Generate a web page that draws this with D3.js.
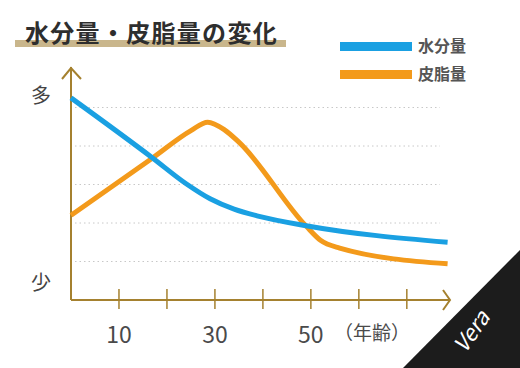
<!DOCTYPE html>
<html lang="ja">
<head>
<meta charset="UTF-8">
<title>水分量・皮脂量の変化</title>
<script src="https://d3js.org/d3.v7.min.js"></script>
<style>
    body { margin: 0; background: #fff; }
    text { font-family: "Noto Sans CJK JP", "Noto Sans", sans-serif; }
    .grid line { stroke: #c8c8c8; stroke-dasharray: 1.5,3; stroke-width: 1; }
</style>
</head>
<body>
<script>
    var width = 520, height = 368;

    // ages (x) and relative level (y, 0..5)
    var waterAges   = [0, 17, 24, 29, 34, 39, 49, 78.5];
    var waterLevels = [5.25, 3.69, 3.02, 2.63, 2.36, 2.18, 1.93, 1.5];
    var sebumAges   = [0, 17, 25, 28.5, 32, 35, 49, 52, 56, 78.5];
    var sebumLevels = [2.2, 3.69, 4.4, 4.62, 4.42, 4.1, 1.92, 1.55, 1.35, 0.94];
    var xTicks = [10, 20, 30, 40, 50, 60, 70];
    var xLabels = [10, 30, 50];
    var gridLevels = [1, 2, 3, 4, 5];
    var seriesNames = ["水分量", "皮脂量"];

    var colors = { "水分量": "#1aa0e2", "皮脂量": "#f39a1b" };
    var axisColor = "#a5812f";

    var svg = d3.select("body").append("svg")
        .attr("width", width)
        .attr("height", height);

    var x = d3.scaleLinear().domain([0, 79]).range([71, 450]);
    var y = d3.scaleLinear().domain([0, 5]).range([300, 107.5]);

    // title with underline band
    svg.append("rect")
        .attr("x", 15).attr("y", 40)
        .attr("width", 271).attr("height", 7)
        .attr("fill", "#c9b68c");
    svg.append("text")
        .attr("x", 25).attr("y", 42)
        .attr("font-size", 24)
        .attr("font-weight", "bold")
        .attr("letter-spacing", 1.3)
        .attr("fill", "#2e2e2e")
        .text("水分量・皮脂量の変化");

    // grid
    svg.append("g").attr("class", "grid")
        .selectAll("line")
        .data(gridLevels)
        .enter().append("line")
        .attr("x1", 75).attr("x2", 440)
        .attr("y1", function(d){ return y(d); })
        .attr("y2", function(d){ return y(d); });

    // axes
    var ax = svg.append("g")
        .attr("stroke", axisColor)
        .attr("stroke-width", 2)
        .attr("fill", "none");
    ax.append("line").attr("x1", x(0)).attr("y1", y(0)).attr("x2", x(0)).attr("y2", 67);
    ax.append("path").attr("d", "M" + (x(0) - 9) + ",79L" + x(0) + ",68L" + (x(0) + 10) + ",79");
    ax.append("line").attr("x1", x(0)).attr("y1", y(0)).attr("x2", 450).attr("y2", y(0));
    ax.append("path").attr("d", "M443,290L450," + y(0) + "L443,310");
    ax.selectAll(".tick")
        .data(xTicks)
        .enter().append("line")
        .attr("x1", function(d){ return x(d); })
        .attr("x2", function(d){ return x(d); })
        .attr("y1", 289).attr("y2", 309)
        .attr("stroke-width", 1.5);

    svg.selectAll(".xlabel")
        .data(xLabels)
        .enter().append("text")
        .attr("x", function(d){ return x(d); })
        .attr("y", 343)
        .attr("text-anchor", "middle")
        .attr("font-size", 23)
        .attr("fill", "#4a4a4a")
        .text(function(d){ return d; });
    svg.append("text")
        .attr("x", 372).attr("y", 340)
        .attr("text-anchor", "middle")
        .attr("font-size", 19)
        .attr("fill", "#4a4a4a")
        .text("（年齢）");

    svg.append("text").attr("x", 41).attr("y", 103)
        .attr("text-anchor", "middle").attr("font-size", 20).attr("fill", "#444").text("多");
    svg.append("text").attr("x", 41).attr("y", 290)
        .attr("text-anchor", "middle").attr("font-size", 20).attr("fill", "#444").text("少");

    // lines
    var line = d3.line()
        .x(function(d){ return x(d[0]); })
        .y(function(d){ return y(d[1]); })
        .curve(d3.curveMonotoneX);

    var series = [
        { name: "水分量", points: d3.zip(waterAges, waterLevels) },
        { name: "皮脂量", points: d3.zip(sebumAges, sebumLevels) }
    ];

    svg.selectAll(".series")
        .data(series.slice().reverse())
        .enter().append("path")
        .attr("fill", "none")
        .attr("stroke", function(d){ return colors[d.name]; })
        .attr("stroke-width", 5)
        .attr("stroke-linecap", "butt")
        .attr("d", function(d){ return line(d.points); });

    // legend
    var legend = svg.selectAll(".legend")
        .data(seriesNames)
        .enter().append("g")
        .attr("transform", function(d, i){ return "translate(340," + (46.5 + i * 28) + ")"; });
    legend.append("rect")
        .attr("x", 0).attr("y", -4.5)
        .attr("width", 72).attr("height", 9)
        .attr("fill", function(d){ return colors[d]; });
    legend.append("text")
        .attr("x", 78).attr("y", 5.5)
        .attr("font-size", 16)
        .attr("font-weight", "bold")
        .attr("fill", "#555")
        .text(function(d){ return d; });

    // corner mark
    svg.append("path")
        .attr("d", "M520,250L520,368L403,368Z")
        .attr("fill", "#1c1c1c");
    svg.append("text")
        .attr("transform", "translate(478,336) rotate(-55)")
        .attr("text-anchor", "middle")
        .attr("font-family", "DejaVu Serif")
        .attr("font-style", "italic")
        .attr("font-size", 22)
        .attr("fill", "#fff")
        .text("Vera");
</script>
</body>
</html>
